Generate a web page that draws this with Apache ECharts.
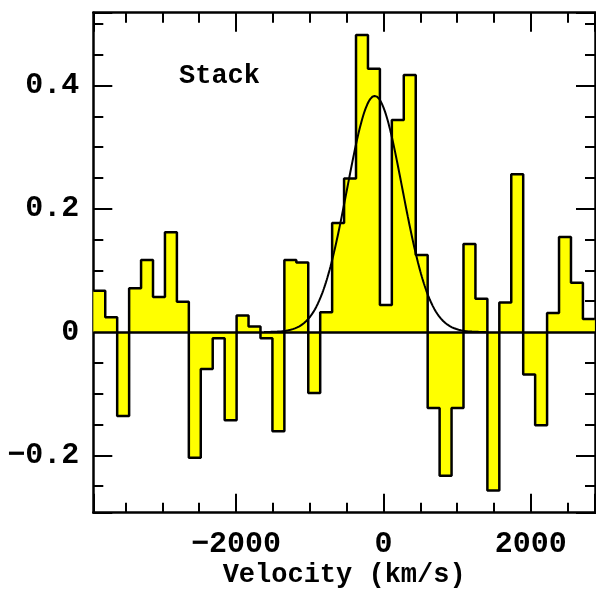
<!DOCTYPE html>
<html>
<head>
<meta charset="utf-8">
<script src="https://cdn.jsdelivr.net/npm/echarts@6/dist/echarts.min.js"></script>
<style>
html,body{margin:0;padding:0;background:#fff;}
#chart{width:596px;height:592px;}
</style>
</head>
<body>
<div id="chart"></div>
<script>
// Bin left edges (km/s) and the right edge of the last bin
const binLeftEdges = [-3936, -3774, -3612, -3450, -3288, -3126, -2964, -2802, -2640, -2478,
  -2316, -2154, -1992, -1830, -1668, -1506, -1344, -1182, -1020, -858,
  -696, -534, -372, -210, -48, 114, 276, 438, 600, 762,
  924, 1086, 1248, 1410, 1572, 1734, 1896, 2058, 2220, 2382,
  2544, 2706];
const lastBinRightEdge = 2868;
// Stacked flux per bin
const fluxValues = [0.067, 0.024, -0.136, 0.071, 0.117, 0.057, 0.162, 0.049, -0.204, -0.060,
  -0.010, -0.143, 0.027, 0.009, -0.010, -0.161, 0.117, 0.113, -0.099, 0.032,
  0.177, 0.249, 0.482, 0.427, 0.044, 0.344, 0.417, 0.125, -0.123, -0.233,
  -0.123, 0.143, 0.054, -0.257, 0.048, 0.256, -0.069, -0.151, 0.031, 0.154,
  0.080, 0.021];
// Gaussian fit parameters
const fitAmplitude = 0.383;
const fitCenter = -118;
const fitSigma = 375;
const fitRange = [-1620, 1390];
// Axis settings
const xRange = [-3936, 2870];
const yRange = [-0.293, 0.518];
const xMajor = 2000;
const yMajor = 0.2;
const labelText = 'Stack';
const xTitle = 'Velocity (km/s)';

const stepData = binLeftEdges.map((e, i) => [e, fluxValues[i]]);
stepData.push([lastBinRightEdge, fluxValues[fluxValues.length - 1]]);

const fitData = [];
for (let v = fitRange[0]; v <= fitRange[1]; v += 10) {
  const z = (v - fitCenter) / fitSigma;
  fitData.push([v, fitAmplitude * Math.exp(-0.5 * z * z)]);
}

const FONT = 'Liberation Mono';
function fmt(v) {
  if (Math.abs(v) < 1e-9) return '0';
  const a = Math.abs(v);
  const s = a >= 1 ? String(Math.round(a)) : a.toFixed(1);
  return (v < 0 ? '\u2212' : '') + s;
}
const lineCol = '#000';
function xAx(pos, showLabels) {
  return {
    type: 'value', position: pos, min: xRange[0], max: xRange[1],
    minInterval: xMajor, maxInterval: xMajor,
    axisLine: {show: true, onZero: false, lineStyle: {color: lineCol, width: 2.5}},
    axisTick: {show: true, inside: true, length: 19, lineStyle: {color: lineCol, width: 2}},
    minorTick: {show: true, splitNumber: 4, length: 10, lineStyle: {color: lineCol, width: 2}},
    splitLine: {show: false}, minorSplitLine: {show: false},
    axisLabel: {show: showLabels, margin: 17, showMinLabel: false, showMaxLabel: false,
      formatter: fmt, color: '#000', fontFamily: FONT, fontWeight: 'bold', fontSize: 30},
    name: showLabels ? xTitle : '', nameLocation: 'middle', nameGap: 49, nameMoveOverlap: false,
    nameTextStyle: {color: '#000', fontFamily: FONT, fontWeight: 'bold', fontSize: 27}
  };
}
function yAx(pos, showLabels) {
  return {
    type: 'value', position: pos, min: yRange[0], max: yRange[1],
    minInterval: yMajor, maxInterval: yMajor,
    axisLine: {show: true, onZero: false, lineStyle: {color: lineCol, width: 2.5}},
    axisTick: {show: true, inside: true, length: 19, lineStyle: {color: lineCol, width: 2}},
    minorTick: {show: true, splitNumber: 4, length: 10, lineStyle: {color: lineCol, width: 2}},
    splitLine: {show: false}, minorSplitLine: {show: false},
    axisLabel: {show: showLabels, margin: 14, showMinLabel: false, showMaxLabel: false,
      formatter: fmt, color: '#000', fontFamily: FONT, fontWeight: 'bold', fontSize: 30}
  };
}

const chart = echarts.init(document.getElementById('chart'), null, {renderer: 'canvas'});
chart.setOption({
  animation: false,
  backgroundColor: '#fff',
  title: {text: labelText, left: 174, top: 58,
    textStyle: {color: '#000', fontFamily: FONT, fontWeight: 'bold', fontSize: 27}},
  grid: {left: 93.3, right: 1, top: 12.7, bottom: 79.3, containLabel: false, outerBoundsMode: 'none'},
  xAxis: [xAx('bottom', true), xAx('top', false)],
  yAxis: [yAx('left', true), yAx('right', false)],
  series: [
    {
      type: 'line', data: stepData, step: 'end', symbol: 'none',
      lineStyle: {color: '#000', width: 2.5},
      areaStyle: {color: '#FFFF00', opacity: 1, origin: 0},
      z: 2,
      markLine: {
        silent: true, symbol: ['none', 'none'], label: {show: false},
        lineStyle: {color: '#000', width: 2.5, type: 'solid'},
        data: [{yAxis: 0}]
      }
    },
    {
      type: 'line', data: fitData, symbol: 'none', smooth: false,
      lineStyle: {color: '#000', width: 2}, z: 3
    }
  ]
});
</script>
</body>
</html>
